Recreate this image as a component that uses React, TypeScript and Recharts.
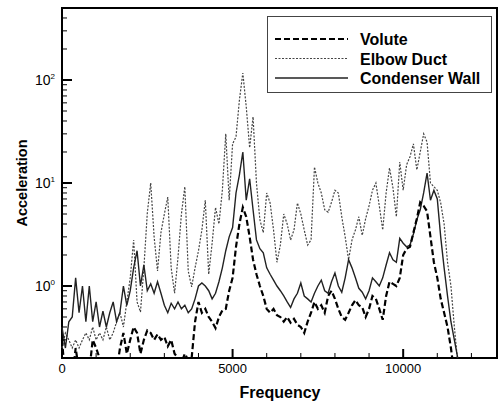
import { LineChart, Line, XAxis, YAxis, Legend, ReferenceArea, Label } from 'recharts';

const frequency = [
  0, 100, 200, 300, 400, 500, 600, 700, 800, 900,
  1000, 1100, 1200, 1300, 1400, 1500, 1600, 1700, 1800, 1900,
  2000, 2100, 2200, 2300, 2400, 2500, 2600, 2700, 2800, 2900,
  3000, 3100, 3200, 3300, 3400, 3500, 3600, 3700, 3800, 3900,
  4000, 4100, 4200, 4300, 4400, 4500, 4600, 4700, 4800, 4900,
  5000, 5100, 5200, 5300, 5400, 5500, 5600, 5700, 5800, 5900,
  6000, 6100, 6200, 6300, 6400, 6500, 6600, 6700, 6800, 6900,
  7000, 7100, 7200, 7300, 7400, 7500, 7600, 7700, 7800, 7900,
  8000, 8100, 8200, 8300, 8400, 8500, 8600, 8700, 8800, 8900,
  9000, 9100, 9200, 9300, 9400, 9500, 9600, 9700, 9800, 9900,
  10000, 10100, 10200, 10300, 10400, 10500, 10600, 10700, 10800, 10900,
  11000, 11100, 11200, 11300, 11400, 11500, 11600, 11700,
];

const volute = [
  0.3, 0.12, 0.15, 0.12, 0.25, 0.15, 0.2, 0.12, 0.15, 0.3,
  0.25, 0.2, 0.15, 0.12, 0.15, 0.12, 0.15, 0.25, 0.35, 0.22,
  0.3, 0.4, 0.35, 0.22, 0.3, 0.37, 0.35, 0.3, 0.34, 0.3,
  0.32, 0.26, 0.3, 0.22, 0.2, 0.18, 0.22, 0.19, 0.2, 0.45,
  0.7, 0.55, 0.6, 0.5, 0.45, 0.39, 0.5, 0.58, 0.6, 0.9,
  1.2, 2.4, 4.0, 5.8, 4.7, 3.0, 1.8, 1.3, 1.0, 0.8,
  0.6, 0.55, 0.6, 0.52, 0.5, 0.45, 0.5, 0.44, 0.48, 0.42,
  0.4, 0.35, 0.45, 0.55, 0.7, 0.6, 0.65, 0.55, 0.8, 0.9,
  0.75, 0.6, 0.5, 0.47, 0.55, 0.65, 0.73, 0.65, 0.62, 0.5,
  0.6, 0.8, 0.75, 0.6, 0.47, 0.8, 1.1, 1.05, 1.0, 1.2,
  2.0, 2.3, 2.4, 3.3, 4.5, 6.5, 6.0, 5.3, 3.0, 1.7,
  1.2, 0.75, 0.55, 0.4, 0.25, 0.14, 0.1, 0.08,
];

const elbowDuct = [
  0.25, 0.35, 0.3, 0.25, 0.3, 0.25, 0.3, 0.35, 0.3, 0.4,
  0.3, 0.35, 0.3, 0.4, 0.3, 0.35, 0.45, 0.55, 0.4, 0.7,
  1.2, 2.8, 0.7, 0.56, 1.5, 5.1, 10, 3, 1.4, 3.3,
  5, 7.3, 1.5, 0.85, 1.9, 5, 9.2, 1.4, 0.98, 1.5,
  2.2, 3.5, 6.8, 1.3, 2.6, 5.8, 4, 8.5, 30, 6.8,
  24, 28, 64, 117, 55, 22, 44, 10, 4.4, 3.3,
  8, 6.4, 3.5, 1.7, 2.5, 5, 4, 2.8, 3.5, 6.4,
  5, 3.5, 2.5, 2.8, 14.3, 10, 8, 5.5, 5.2, 6.5,
  8.5, 8, 4.7, 3, 1.8, 2.8, 3.5, 4.7, 3.1, 4.5,
  6, 8.5, 10, 6, 3.5, 8, 14, 9, 4.7, 16,
  8.5, 15, 18, 24, 13.4, 20, 30, 25, 10, 9.2,
  8.5, 6.4, 4, 1.7, 1.0, 0.4, 0.18, 0.1,
];

const condenserWall = [
  0.4, 0.25, 0.45, 0.5, 1.2, 0.55, 1.0, 0.45, 1.0, 0.45,
  0.7, 0.4, 0.57, 0.4, 0.55, 0.7, 0.45, 0.56, 1.0, 0.65,
  0.9, 1.5, 2.2, 1.0, 1.6, 0.9, 1.05, 0.85, 1.1, 0.85,
  0.65, 0.55, 0.68, 0.6, 0.7, 0.6, 0.65, 0.55, 0.6, 0.75,
  1.0, 1.07, 1.0, 0.9, 0.75, 0.85, 1.1, 1.5, 2.2, 3.0,
  3.7, 8, 12, 20, 6.8, 11, 5.5, 2.8, 2.3, 2.1,
  1.5, 1.3, 1.14, 1.0, 0.9, 0.8, 0.7, 0.62, 0.75, 0.85,
  1.07, 0.8, 0.75, 0.7, 0.85, 1.0, 1.14, 0.9, 0.85, 1.1,
  1.34, 1.0, 0.87, 1.2, 1.8, 1.5, 1.2, 0.95, 0.87, 0.75,
  0.9, 1.2, 1.1, 1.0, 1.2, 1.6, 2.1, 1.8, 1.7, 2.9,
  2.6, 2.4, 2.5, 3.2, 4.4, 5.5, 8, 12.5, 6.8, 8.5,
  7.0, 3.0, 1.5, 0.8, 0.45, 0.3, 0.2, 0.12,
];

const xTicks = [0, 1000, 2000, 3000, 4000, 5000, 6000, 7000, 8000, 9000, 10000, 11000, 12000];
const xLabelled = [0, 5000, 10000];
const yTicks = [
  0.2, 0.3, 0.4, 0.5, 0.6, 0.7, 0.8, 0.9,
  1, 2, 3, 4, 5, 6, 7, 8, 9,
  10, 20, 30, 40, 50, 60, 70, 80, 90,
  100, 200, 300, 400, 500,
];
const yLabelled = [1, 10, 100];

const seriesNames = ['Volute', 'Elbow Duct', 'Condenser Wall'];

const data = frequency.map((f, i) => ({
  f,
  volute: volute[i],
  elbow: elbowDuct[i],
  condenser: condenserWall[i],
}));

const FONT = '"Liberation Sans", Arial, Helvetica, sans-serif';

const XTick = (props: any) => {
  const { x, y, payload } = props;
  const major = xLabelled.includes(payload.value);
  return (
    <g>
      <line x1={x} x2={x} y1={y} y2={y - (major ? 9 : 5)} stroke="#000" strokeWidth={major ? 2 : 1} />
      {major && (
        <text x={x} y={y + 15} textAnchor="middle" fontSize={13} fill="#000" fontFamily={FONT}>
          {payload.value}
        </text>
      )}
    </g>
  );
};

const YTick = (props: any) => {
  const { x, y, payload } = props;
  const v = payload.value;
  const major = yLabelled.includes(v);
  const exp = Math.round(Math.log10(v));
  return (
    <g>
      <line x1={x} x2={x + (major ? 10 : 5)} y1={y} y2={y} stroke="#000" strokeWidth={major ? 2 : 1} />
      {major && (
        <text x={x - 7} y={y + 5} textAnchor="end" fontSize={14} fill="#000" fontFamily={FONT}>
          10
          <tspan dy={-6} fontSize={8}>{exp}</tspan>
        </text>
      )}
    </g>
  );
};

const legendStyles = [
  { stroke: '#000', strokeWidth: 2.2, dash: '6 3' },
  { stroke: '#444', strokeWidth: 1.2, dash: '2 1.5' },
  { stroke: '#222', strokeWidth: 1.4, dash: undefined },
];

const renderLegend = () => (
  <div style={{ width: 225, height: 77, background: '#fff', border: '1px solid #444', boxSizing: 'border-box' }}>
    <svg width={223} height={75}>
      {seriesNames.map((name, i) => {
        const cy = 22 + i * 19.5;
        const s = legendStyles[i];
        return (
          <g key={name}>
            <line x1={7} x2={80} y1={cy} y2={cy} stroke={s.stroke} strokeWidth={s.strokeWidth} strokeDasharray={s.dash} />
            <text x={92} y={cy + 6} fontSize={16} fontWeight="bold" fill="#000" fontFamily={FONT}>
              {name}
            </text>
          </g>
        );
      })}
    </svg>
  </div>
);

export default function App() {
  return (
    <div style={{ position: 'absolute', left: 0, top: 0, fontFamily: FONT }}>
      <LineChart width={499} height={403} data={data} margin={{ top: 8, right: 2, bottom: 0, left: 0 }}>
        <XAxis
          dataKey="f"
          type="number"
          domain={[0, 12750]}
          ticks={xTicks}
          tick={<XTick />}
          tickSize={0}
          tickMargin={0}
          tickLine={false}
          axisLine={false}
          height={45}
          interval={0}
        >
          <Label
            content={() => (
              <text x={280} y={398} textAnchor="middle" fontSize={16} fontWeight="bold" fill="#000" fontFamily={FONT}>
                Frequency
              </text>
            )}
          />
        </XAxis>
        <YAxis
          scale="log"
          domain={[0.2, 500]}
          allowDataOverflow
          ticks={yTicks}
          tick={<YTick />}
          tickSize={0}
          tickMargin={0}
          tickLine={false}
          axisLine={false}
          width={62}
          interval={0}
        >
          <Label
            content={() => (
              <text
                x={22}
                y={183}
                transform="rotate(-90, 22, 183)"
                textAnchor="middle"
                dominantBaseline="central"
                fontSize={14.5}
                fontWeight="bold"
                fill="#000"
                fontFamily={FONT}
              >
                Acceleration
              </text>
            )}
          />
        </YAxis>
        <Line
          dataKey="elbow"
          name="Elbow Duct"
          type="linear"
          stroke="#444"
          strokeWidth={1.2}
          strokeDasharray="2 1.5"
          dot={false}
          isAnimationActive={false}
        />
        <Line
          dataKey="condenser"
          name="Condenser Wall"
          type="linear"
          stroke="#222"
          strokeWidth={1.4}
          dot={false}
          isAnimationActive={false}
        />
        <Line
          dataKey="volute"
          name="Volute"
          type="linear"
          stroke="#000"
          strokeWidth={2.2}
          strokeDasharray="6 3"
          dot={false}
          isAnimationActive={false}
        />
        <ReferenceArea
          x1={0}
          x2={12750}
          y1={0.2}
          y2={500}
          fill="none"
          fillOpacity={0}
          stroke="#000"
          strokeWidth={2}
          ifOverflow="visible"
        />
        <Legend
          layout="vertical"
          align="center"
          verticalAlign="middle"
          wrapperStyle={{ top: 16, left: 267, width: 225, height: 77 }}
          content={renderLegend}
        />
      </LineChart>
    </div>
  );
}
